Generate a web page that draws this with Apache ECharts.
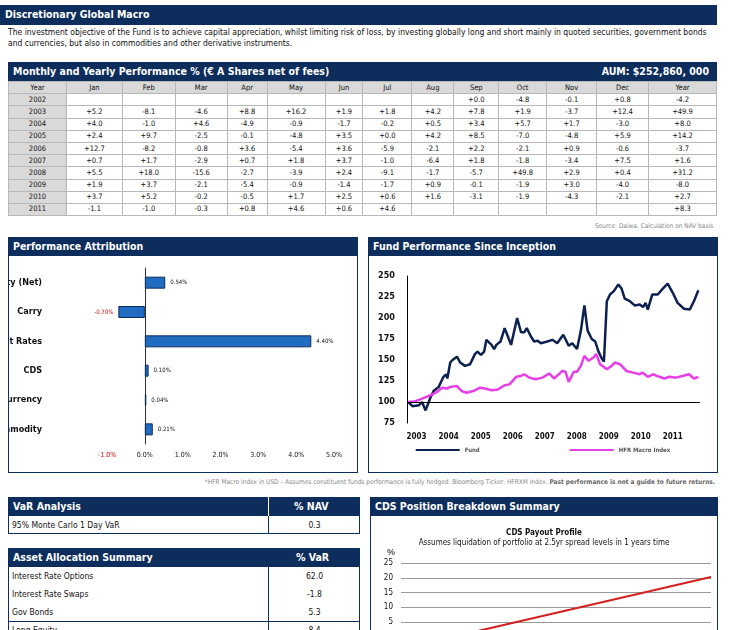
<!DOCTYPE html>
<html>
<head>
<meta charset="utf-8">
<script src="https://cdn.jsdelivr.net/npm/echarts@6/dist/echarts.min.js"></script>
<style>
body{margin:0;width:730px;height:630px;overflow:hidden;background:#fff;font-family:"DejaVu Sans Condensed","Liberation Sans Narrow","Liberation Sans",sans-serif;color:#111;position:relative}
.bar{position:absolute;background:#0d2d5c;color:#fff;font-weight:bold;font-size:10.5px;line-height:19px;padding-left:5px;box-sizing:border-box}
.box{position:absolute;border:1px solid #0d2d5c;box-sizing:border-box}
table{border-collapse:collapse;font-size:7.5px}
#perf td{border:1px solid #b8b8b8;text-align:center;height:11.2px;padding:0;line-height:10px}
#perf td.y{background:#d9d9d9}
#perf tr.h td{background:#d9d9d9}
.small{position:absolute;font-size:6.5px;color:#888}
</style>
</head>
<body>
<div class="bar" style="left:0;top:5px;width:717px;height:20px;">Discretionary Global Macro</div>
<div style="position:absolute;left:8px;top:27px;width:712px;font-size:8.5px;line-height:11px;">The investment objective of the Fund is to achieve capital appreciation, whilst limiting risk of loss, by investing globally long and short mainly in quoted securities, government bonds and currencies, but also in commodities and other derivative instruments.</div>

<div class="bar" style="left:8px;top:62px;width:709px;height:19px;">Monthly and Yearly Performance % (€ A Shares net of fees)<span style="position:absolute;right:8px;">AUM: $252,860, 000</span></div>
<table id="perf" style="position:absolute;left:8px;top:81px;width:709px;"></table>
<div class="small" style="right:15px;top:222px;">Source: Daiwa. Calculation on NAV basis.</div>

<div class="box" style="left:8px;top:237px;width:350px;height:236px;"></div>
<div class="bar" style="left:8px;top:237px;width:350px;height:19px;">Performance Attribution</div>
<div id="attr" style="position:absolute;left:9px;top:256px;width:348px;height:216px;"></div>

<div class="box" style="left:368px;top:237px;width:350px;height:236px;"></div>
<div class="bar" style="left:368px;top:237px;width:350px;height:19px;">Fund Performance Since Inception</div>
<div id="fund" style="position:absolute;left:369px;top:256px;width:348px;height:216px;"></div>

<div class="small" style="right:15px;top:478px;">*HFR Macro Index in USD – Assumes constituent funds performance is fully hedged. Bloomberg Ticker: HFRXM Index. <b style="color:#666">Past performance is not a guide to future returns.</b></div>

<div class="box" style="left:8px;top:497px;width:352px;height:37px;"></div>
<div class="bar" style="left:8px;top:497px;width:352px;height:19px;">VaR Analysis<span style="position:absolute;left:286px;">% NAV</span></div>
<div style="position:absolute;left:268px;top:497px;width:1px;height:37px;background:#fff;"></div>
<div style="position:absolute;left:268px;top:516px;width:1px;height:18px;background:#0d2d5c;"></div>
<div style="position:absolute;left:12px;top:516px;font-size:8.5px;line-height:18px;">95% Monte Carlo 1 Day VaR</div>
<div style="position:absolute;left:269px;top:516px;width:91px;text-align:center;font-size:8.5px;line-height:18px;">0.3</div>

<div class="box" style="left:8px;top:548px;width:352px;height:90px;"></div>
<div class="bar" style="left:8px;top:548px;width:352px;height:19px;">Asset Allocation Summary<span style="position:absolute;left:288px;">% VaR</span></div>
<div style="position:absolute;left:268px;top:548px;width:1px;height:90px;background:#0d2d5c;"></div>
<div id="alloc"></div>

<div class="box" style="left:370px;top:497px;width:348px;height:140px;"></div>
<div class="bar" style="left:370px;top:497px;width:348px;height:19px;">CDS Position Breakdown Summary</div>
<div id="cds" style="position:absolute;left:371px;top:516px;width:346px;height:200px;"></div>

<script>
var months = ["Jan","Feb","Mar","Apr","May","Jun","Jul","Aug","Sep","Oct","Nov","Dec","Year"];
var years = ["2002","2003","2004","2005","2006","2007","2008","2009","2010","2011"];
var r2002 = ["","","","","","","","","+0.0","-4.8","-0.1","+0.8","-4.2"];
var r2003 = ["+5.2","-8.1","-4.6","+8.8","+16.2","+1.9","+1.8","+4.2","+7.8","+1.9","-3.7","+12.4","+49.9"];
var r2004 = ["+4.0","-1.0","+4.6","-4.9","-0.9","-1.7","-0.2","+0.5","+3.4","+5.7","+1.7","-3.0","+8.0"];
var r2005 = ["+2.4","+9.7","-2.5","-0.1","-4.8","+3.5","+0.0","+4.2","+8.5","-7.0","-4.8","+5.9","+14.2"];
var r2006 = ["+12.7","-8.2","-0.8","+3.6","-5.4","+3.6","-5.9","-2.1","+2.2","-2.1","+0.9","-0.6","-3.7"];
var r2007 = ["+0.7","+1.7","-2.9","+0.7","+1.8","+3.7","-1.0","-6.4","+1.8","-1.8","-3.4","+7.5","+1.6"];
var r2008 = ["+5.5","+18.0","-15.6","-2.7","-3.9","+2.4","-9.1","-1.7","-5.7","+49.8","+2.9","+0.4","+31.2"];
var r2009 = ["+1.9","+3.7","-2.1","-5.4","-0.9","-1.4","-1.7","+0.9","-0.1","-1.9","+3.0","-4.0","-8.0"];
var r2010 = ["+3.7","+5.2","-0.2","-0.5","+1.7","+2.5","+0.6","+1.6","-3.1","-1.9","-4.3","-2.1","+2.7"];
var r2011 = ["-1.1","-1.0","-0.3","+0.8","+4.6","+0.6","+4.6","","","","","","+8.3"];
var perfRows = [r2002,r2003,r2004,r2005,r2006,r2007,r2008,r2009,r2010,r2011];

var attrCats = ["Equity (Net)","Carry","Interest Rates","CDS","Currency","Commodity"];
var attrVals = [0.54,-0.70,4.40,0.10,0.04,0.21];

var fundData = [[2002.74,100],[2002.87,95],[2003.07,96],[2003.17,100],[2003.28,90],[2003.33,88],[2003.43,105],[2003.53,113],[2003.69,118],[2003.84,130],[2003.92,133],[2003.96,128],[2004.05,147],[2004.12,150],[2004.26,154],[2004.36,147],[2004.51,143],[2004.67,145],[2004.82,157],[2004.90,160],[2005.01,156],[2005.11,160],[2005.18,174],[2005.34,168],[2005.42,163],[2005.49,168],[2005.62,172],[2005.75,188],[2005.83,180],[2005.95,168],[2006.14,200],[2006.26,183],[2006.36,183],[2006.44,188],[2006.57,178],[2006.67,172],[2006.78,173],[2006.88,170],[2007.08,172],[2007.24,174],[2007.39,170],[2007.58,180],[2007.75,167],[2007.86,170],[2008.01,163],[2008.13,185],[2008.24,215],[2008.34,185],[2008.47,175],[2008.58,172],[2008.68,160],[2008.78,152],[2008.85,148],[2008.94,220],[2009.04,228],[2009.16,232],[2009.30,240],[2009.40,235],[2009.50,223],[2009.66,220],[2009.81,215],[2009.97,216],[2010.07,213],[2010.15,218],[2010.22,210],[2010.36,228],[2010.53,228],[2010.69,235],[2010.84,241],[2011.00,230],[2011.15,218],[2011.35,211],[2011.53,210],[2011.66,220],[2011.71,222],[2011.80,233]];
var hfrData = [[2002.74,100],[2002.97,101],[2003.17,104],[2003.43,108],[2003.64,112],[2003.79,117],[2003.95,116],[2004.05,118],[2004.26,119],[2004.41,113],[2004.56,111],[2004.77,113],[2004.98,117],[2005.13,116],[2005.34,114],[2005.54,115],[2005.75,120],[2005.90,121],[2006.11,130],[2006.26,131],[2006.36,133],[2006.52,129],[2006.72,127],[2006.93,129],[2007.14,134],[2007.29,128],[2007.44,133],[2007.55,137],[2007.65,136],[2007.75,124],[2007.91,136],[2008.01,136],[2008.13,143],[2008.24,155],[2008.37,149],[2008.52,153],[2008.61,157],[2008.73,145],[2008.94,139],[2009.09,143],[2009.19,147],[2009.35,145],[2009.55,137],[2009.76,135],[2009.97,133],[2010.05,135],[2010.22,130],[2010.38,133],[2010.58,130],[2010.74,128],[2010.89,130],[2011.10,129],[2011.30,131],[2011.51,133],[2011.66,128],[2011.80,130]];
var yearTicks = [2003,2004,2005,2006,2007,2008,2009,2010,2011];

var allocNames = ["Interest Rate Options","Interest Rate Swaps","Gov Bonds","Long Equity"];
var allocVals = ["62.0","-1.8","5.3","8.4"];

var cdsData = [[0,-4],[1,20.3]];

// performance table
var colW = [58,56,53,52,40,58,38,49,42,45,48,50,52,68];
var html = "<colgroup>" + colW.map(function(w){return '<col style="width:'+w+'px">';}).join("") + "</colgroup>";
html += '<tr class="h"><td>Year</td>' + months.map(function(m){return "<td>"+m+"</td>";}).join("") + "</tr>";
perfRows.forEach(function(r, i){
	html += '<tr><td class="y">'+years[i]+'</td>' + r.map(function(v){return "<td>"+v+"</td>";}).join("") + "</tr>";
});
document.getElementById("perf").innerHTML = html;

// allocation rows
var ah = "";
allocNames.forEach(function(n, i){
	var top = 567 + i*18;
	ah += '<div style="position:absolute;left:12px;top:'+top+'px;font-size:8.5px;line-height:18px;">'+n+'</div>';
	ah += '<div style="position:absolute;left:269px;top:'+top+'px;width:91px;text-align:center;font-size:8.5px;line-height:18px;">'+allocVals[i]+'</div>';
});
ah += '<div style="position:absolute;left:8px;top:621px;width:352px;height:1px;background:#0d2d5c;"></div>';
document.getElementById("alloc").innerHTML = ah;

var ff = "DejaVu Sans Condensed";

var attrChart = echarts.init(document.getElementById("attr"));
attrChart.setOption({
	animation: false,
	grid: {left: 98, right: 23, top: 12, bottom: 28, outerBoundsMode: "none"},
	xAxis: {type: "value", min: -1, max: 5, interval: 1,
		axisLine: {show: false}, axisTick: {show: false}, splitLine: {show: false},
		axisLabel: {fontSize: 7, fontFamily: ff, color: function(v){return v < 0 ? "#d00" : "#111";},
			formatter: function(v){return v.toFixed(1) + "%";}}
	},
	yAxis: {type: "category", data: attrCats, inverse: true,
		axisLine: {onZero: true, lineStyle: {color: "#333"}}, axisTick: {show: false},
		axisLabel: {fontSize: 9, fontWeight: "bold", fontFamily: ff, color: "#111", margin: 65}
	},
	series: [{type: "bar", barWidth: 12,
		data: attrVals.map(function(v){
			return v < 0 ? {value: v, label: {position: "left", color: "#d00"}} : v;
		}),
		itemStyle: {color: "#1f6cc0", borderColor: "#0d2d5c", borderWidth: 1},
		label: {show: true, fontSize: 6, fontFamily: ff, position: "right", color: "#111",
			formatter: function(p){return p.value.toFixed(2) + "%";}}
	}]
});

var fundChart = echarts.init(document.getElementById("fund"));
fundChart.setOption({
	animation: false,
	grid: {left: 38, right: 17, top: 20, bottom: 49, outerBoundsMode: "none"},
	legend: {bottom: 14, itemWidth: 44, itemHeight: 2, itemGap: 90, icon: "rect",
		textStyle: {fontSize: 6, fontWeight: "bold", fontFamily: ff}},
	xAxis: {type: "value", min: 2002.7, max: 2011.85,
		axisLine: {show: false}, axisTick: {show: false}, splitLine: {show: false},
		axisLabel: {customValues: yearTicks, fontSize: 8, fontWeight: "bold", fontFamily: ff, color: "#111", margin: 10,
			formatter: function(v){return String(Math.round(v));}}
	},
	yAxis: {type: "value", min: 75, max: 250, interval: 25,
		axisLine: {show: true, lineStyle: {color: "#000"}}, axisTick: {show: false}, splitLine: {show: false},
		axisLabel: {fontSize: 9, fontWeight: "bold", fontFamily: ff, color: "#111", margin: 12}
	},
	series: [
		{name: "Fund", type: "line", data: fundData, showSymbol: false, lineStyle: {color: "#0d2150", width: 2.5}, itemStyle: {color: "#0d2150"},
			markLine: {silent: true, symbol: "none", label: {show: false}, lineStyle: {color: "#000", type: "solid", width: 1}, data: [{yAxis: 100}]}},
		{name: "HFR Macro Index", type: "line", data: hfrData, showSymbol: false, lineStyle: {color: "#e83ee8", width: 2.5}, itemStyle: {color: "#e83ee8"}}
	]
});

var cdsChart = echarts.init(document.getElementById("cds"));
cdsChart.setOption({
	animation: false,
	title: {text: "CDS Payout Profile", subtext: "Assumes liquidation of portfolio at 2.5yr spread levels in 1 years time",
		left: "center", top: 8, itemGap: 2,
		textStyle: {fontSize: 8, fontWeight: "bold", fontFamily: ff, color: "#111"},
		subtextStyle: {fontSize: 8, fontFamily: ff, color: "#111"}},
	grid: {left: 30, right: 6, top: 47, height: 148, outerBoundsMode: "none"},
	xAxis: {type: "value", min: 0, max: 1, show: false},
	yAxis: {type: "value", min: -25, max: 25, interval: 5, name: "%", nameLocation: "end", nameGap: 6,
		nameTextStyle: {fontSize: 9, fontWeight: "bold", align: "right", padding: [0, 6, 0, 0]},
		axisLine: {show: false}, axisTick: {show: false},
		splitLine: {lineStyle: {color: "#999"}},
		axisLabel: {fontSize: 8, fontFamily: ff, color: "#111"}
	},
	series: [{type: "line", data: cdsData, showSymbol: false, lineStyle: {color: "#d42020", width: 2}}]
});
</script>
</body>
</html>
